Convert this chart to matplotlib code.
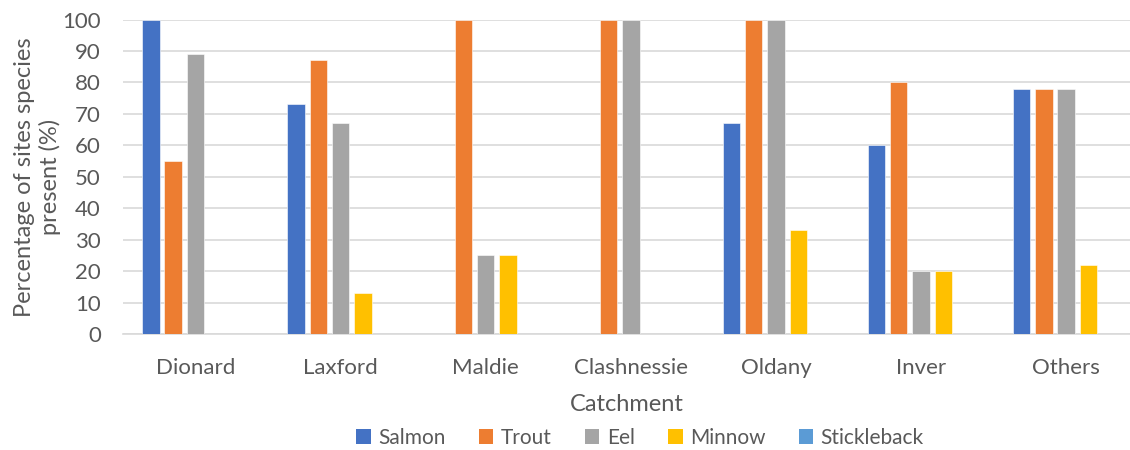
import numpy as np
import matplotlib
matplotlib.use("Agg")
import matplotlib.pyplot as plt
from matplotlib.patches import Patch

plt.rcParams["font.family"] = ["Lato", "DejaVu Sans"]

catchments = ["Dionard", "Laxford", "Maldie", "Clashnessie", "Oldany", "Inver", "Others"]
species = ["Salmon", "Trout", "Eel", "Minnow", "Stickleback"]
salmon = [100, 73, 0, 0, 67, 60, 78]
trout = [55, 87, 100, 100, 100, 80, 78]
eel = [89, 67, 25, 100, 100, 20, 78]
minnow = [0, 13, 25, 0, 33, 20, 22]
stickleback = [0, 0, 0, 0, 0, 0, 0]
series = [salmon, trout, eel, minnow, stickleback]
colors = ["#4472C4", "#ED7D31", "#A5A5A5", "#FFC000", "#5B9BD5"]

W, H = 1130, 450
fig = plt.figure(figsize=(W / 100, H / 100), dpi=100)
ax = fig.add_axes([123 / W, 1 - 334 / H, (1130 - 123) / W, (334 - 19.5) / H])

x = np.arange(len(catchments))
step = 0.154
width = 0.12
for i, (vals, col) in enumerate(zip(series, colors)):
    ax.bar(x + (i - 2) * step, vals, width, color=col, zorder=3,
           edgecolor="white", linewidth=0.4)

ax.set_xlim(-0.5, 6.44)
ax.set_ylim(0, 100)
ax.set_yticks(range(0, 101, 10))
ax.set_xticks(x)
ax.set_xticklabels(catchments)
ax.grid(axis="y", color="#D9D9D9", linewidth=1.2, zorder=0)
for s in ["top", "right", "left"]:
    ax.spines[s].set_visible(False)
ax.spines["bottom"].set_color("#D9D9D9")
ax.spines["bottom"].set_linewidth(1.2)
ax.tick_params(axis="both", length=0, labelsize=16, labelcolor="#595959")
ax.tick_params(axis="x", pad=17)
ax.tick_params(axis="y", pad=16)

ax.set_xlabel("Catchment", fontsize=17, color="#595959", labelpad=12)
ax.set_ylabel("Percentage of sites species\npresent (%)", fontsize=17,
              color="#595959", linespacing=1.25, va="center")
ax.yaxis.set_label_coords(-0.085, 0.5)

handles = [Patch(facecolor=c, label=s) for s, c in zip(species, colors)]
fig.legend(handles=handles, loc="center", bbox_to_anchor=(640 / W, 1 - 438 / H),
           ncol=5, frameon=False, fontsize=15, handlelength=0.7, handleheight=0.7,
           handletextpad=0.35, columnspacing=1.6, labelcolor="#595959")

fig.savefig("out.png", dpi=100)
